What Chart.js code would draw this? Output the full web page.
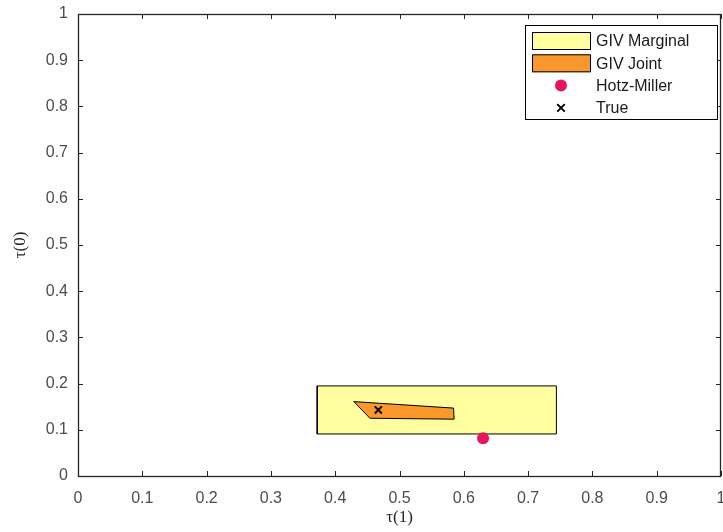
<!DOCTYPE html>
<html>
<head>
<meta charset="utf-8">
<script src="https://cdn.jsdelivr.net/npm/chart.js@4.4.0/dist/chart.umd.min.js"></script>
<style>
  html, body { margin: 0; padding: 0; background: #fff; }
  #wrap { width: 723px; height: 532px; }
</style>
</head>
<body>
<div id="wrap"><canvas id="grafico" width="723" height="532"></canvas></div>
<script>
// valores
const tickVals = [0, 0.1, 0.2, 0.3, 0.4, 0.5, 0.6, 0.7, 0.8, 0.9, 1];
const tickLabels = ['0', '0.1', '0.2', '0.3', '0.4', '0.5', '0.6', '0.7', '0.8', '0.9', '1'];

const marginalX = [0.372, 0.744, 0.744, 0.372, 0.372];
const marginalY = [0.091, 0.091, 0.195, 0.195, 0.091];

const jointX = [0.429, 0.584, 0.585, 0.454, 0.429];
const jointY = [0.161, 0.147, 0.123, 0.125, 0.161];

const hotzX = [0.630];
const hotzY = [0.0815];

const trueX = [0.467];
const trueY = [0.143];

const toPts = (xs, ys) => xs.map((x, i) => ({ x: x, y: ys[i] }));

const axisColor = '#262626';
const tickFont = { family: "'Liberation Sans', Arial, sans-serif", size: 16 };

// caja con marcas hacia adentro, estilo matlab
const boxTicks = {
  id: 'boxTicks',
  afterDatasetsDraw(chart) {
    const { ctx, chartArea: a, scales } = chart;
    ctx.save();
    ctx.strokeStyle = axisColor;
    ctx.lineWidth = 1;
    const len = 5;
    ctx.beginPath();
    scales.x.ticks.forEach(t => {
      const px = Math.round(scales.x.getPixelForValue(t.value)) + 0.5;
      ctx.moveTo(px, a.bottom); ctx.lineTo(px, a.bottom - len);
      ctx.moveTo(px, a.top); ctx.lineTo(px, a.top + len);
    });
    scales.y.ticks.forEach(t => {
      const py = Math.round(scales.y.getPixelForValue(t.value)) + 0.5;
      ctx.moveTo(a.left, py); ctx.lineTo(a.left + len, py);
      ctx.moveTo(a.right, py); ctx.lineTo(a.right - len, py);
    });
    ctx.stroke();
    ctx.lineWidth = 1.3;
    ctx.strokeRect(Math.round(a.left) + 0.5, Math.round(a.top) + 0.5,
      Math.round(a.right - a.left) - 1, Math.round(a.bottom - a.top));
    ctx.restore();
  }
};

// leyenda dentro del area del grafico
const leyenda = {
  id: 'leyenda',
  afterDraw(chart) {
    const { ctx } = chart;
    const bx = 525, by = 25, bw = 192, bh = 94;
    ctx.save();
    ctx.fillStyle = '#fff';
    ctx.fillRect(bx, by, bw, bh);
    ctx.strokeStyle = '#000';
    ctx.lineWidth = 1;
    ctx.strokeRect(bx + 0.5, by + 0.5, bw, bh);
    ctx.font = "16px 'Liberation Sans', Arial, sans-serif";
    ctx.textBaseline = 'middle';
    const ds = chart.data.datasets;
    ds.forEach((d, i) => {
      const cy = 41 + i * 22.3;
      if (d.showLine) {
        ctx.fillStyle = d.backgroundColor;
        ctx.fillRect(532, cy - 9, 58, 18);
        ctx.strokeStyle = '#000';
        ctx.lineWidth = 1;
        ctx.strokeRect(532.5, cy - 8.5, 58, 17);
      } else if (d.pointStyle === 'circle') {
        ctx.fillStyle = d.backgroundColor;
        ctx.beginPath();
        ctx.arc(561, cy, d.pointRadius, 0, Math.PI * 2);
        ctx.fill();
      } else {
        const r = d.pointRadius * 0.75;
        ctx.strokeStyle = d.borderColor;
        ctx.lineWidth = d.borderWidth;
        ctx.beginPath();
        ctx.moveTo(561 - r, cy - r); ctx.lineTo(561 + r, cy + r);
        ctx.moveTo(561 - r, cy + r); ctx.lineTo(561 + r, cy - r);
        ctx.stroke();
      }
      ctx.fillStyle = '#1a1a1a';
      ctx.fillText(d.label, 596, cy + 1);
    });
    ctx.restore();
  }
};

const ctx = document.getElementById('grafico').getContext('2d');
const grafico = new Chart(ctx, {
  type: 'scatter',
  data: {
    datasets: [
      {
        label: 'GIV Marginal',
        data: toPts(marginalX, marginalY),
        showLine: true,
        fill: 'shape',
        backgroundColor: 'rgb(255, 255, 160)',
        borderColor: '#000',
        borderWidth: 1,
        pointRadius: 0,
        order: 4
      },
      {
        label: 'GIV Joint',
        data: toPts(jointX, jointY),
        showLine: true,
        fill: 'shape',
        backgroundColor: 'rgb(250, 152, 45)',
        borderColor: '#000',
        borderWidth: 1,
        pointRadius: 0,
        order: 3
      },
      {
        label: 'Hotz-Miller',
        data: toPts(hotzX, hotzY),
        showLine: false,
        pointStyle: 'circle',
        pointRadius: 6,
        backgroundColor: 'rgb(232, 20, 95)',
        borderColor: 'rgb(232, 20, 95)',
        borderWidth: 0,
        order: 2
      },
      {
        label: 'True',
        data: toPts(trueX, trueY),
        showLine: false,
        pointStyle: 'crossRot',
        pointRadius: 5,
        backgroundColor: '#000',
        borderColor: '#000',
        borderWidth: 2,
        order: 1
      }
    ]
  },
  options: {
    responsive: false,
    animation: false,
    layout: { autoPadding: false, padding: { top: 14, right: 2, left: 0, bottom: 0 } },
    plugins: {
      legend: { display: false },
      tooltip: { enabled: false }
    },
    scales: {
      x: {
        type: 'linear',
        min: 0, max: 1,
        afterBuildTicks: s => { s.ticks = tickVals.map(v => ({ value: v })); },
        afterFit: s => { s.height = 56; s.paddingLeft = 0; s.paddingRight = 0; },
        grid: { display: false, drawTicks: false, tickLength: 0 },
        border: { display: false },
        ticks: {
          padding: 13,
          color: '#4d4d4d',
          font: tickFont,
          maxRotation: 0,
          callback: (v) => tickLabels[tickVals.indexOf(v)] ?? ''
        },
        title: {
          display: true,
          text: 'τ(1)',
          color: axisColor,
          font: { family: "'Liberation Serif', 'DejaVu Serif', serif", size: 17 },
          padding: { top: 0, bottom: 4 }
        }
      },
      y: {
        type: 'linear',
        min: 0, max: 1,
        afterBuildTicks: s => { s.ticks = tickVals.map(v => ({ value: v })); },
        afterFit: s => { s.width = 78; s.paddingTop = 0; s.paddingBottom = 0; },
        grid: { display: false, drawTicks: false, tickLength: 0 },
        border: { display: false },
        ticks: {
          padding: 10,
          color: '#4d4d4d',
          font: tickFont,
          callback: (v) => tickLabels[tickVals.indexOf(v)] ?? ''
        },
        title: {
          display: true,
          text: 'τ(0)',
          color: axisColor,
          font: { family: "'Liberation Serif', 'DejaVu Serif', serif", size: 17 },
          padding: { top: 10, bottom: 0 }
        }
      }
    }
  },
  plugins: [boxTicks, leyenda]
});
</script>
</body>
</html>
